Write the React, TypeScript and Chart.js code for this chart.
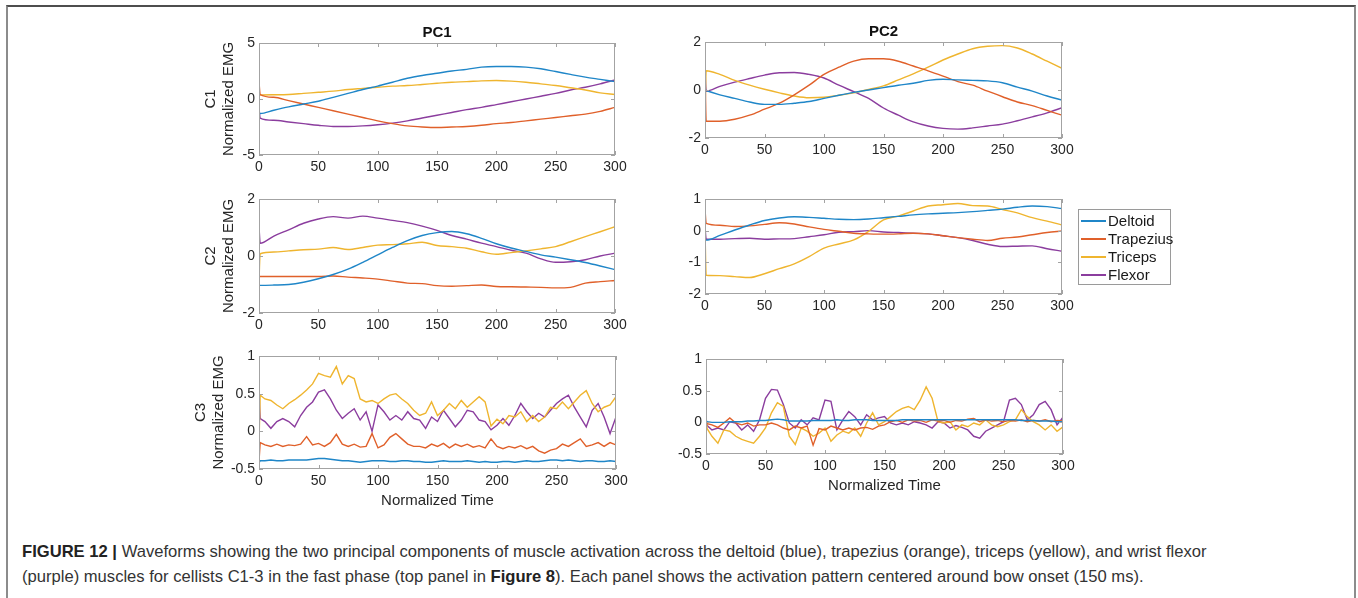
import React, { useEffect, useRef } from "react";
import { Chart, registerables } from "chart.js";

Chart.register(...registerables);

const FONT = '"Liberation Sans", Arial, Helvetica, sans-serif';

// ---------- categories / labels ----------
const muscles = ["Deltoid", "Trapezius", "Triceps", "Flexor"];
const muscleColors = ["#1f86c8", "#e0602a", "#efb52f", "#8b3d9e"];
const componentTitles = ["PC1", "PC2"];
const cellists = ["C1", "C2", "C3"];
const xTickValues = [0, 50, 100, 150, 200, 250, 300];

// ---------- time bases ----------
const timeSmooth = [0, 1, 12.5, 25, 37.5, 50, 62.5, 75, 87.5, 100, 112.5, 125, 137.5, 150, 162.5, 175, 187.5, 200, 212.5, 225, 237.5, 250, 262.5, 275, 287.5, 300];
const timeNoisy = [0, 1,
  5, 10, 15, 20, 25, 30, 35, 40, 45, 50,
  55, 60, 65, 70, 75, 80, 85, 90, 95, 100,
  105, 110, 115, 120, 125, 130, 135, 140, 145, 150,
  155, 160, 165, 170, 175, 180, 185, 190, 195, 200,
  205, 210, 215, 220, 225, 230, 235, 240, 245, 250,
  255, 260, 265, 270, 275, 280, 285, 290, 295, 300];

// ---------- C1 PC1 ----------
const c1pc1Deltoid = [-1.3, -1.3, -1.0, -0.7, -0.45, -0.2, 0.15, 0.5, 0.85, 1.15, 1.5, 1.85, 2.1, 2.3, 2.5, 2.65, 2.85, 2.9, 2.9, 2.85, 2.7, 2.45, 2.2, 1.95, 1.75, 1.55];
const c1pc1Trapezius = [1.5, 0.4, 0.15, -0.15, -0.45, -0.75, -1.05, -1.35, -1.65, -1.95, -2.2, -2.4, -2.5, -2.55, -2.5, -2.45, -2.35, -2.2, -2.1, -1.95, -1.8, -1.65, -1.5, -1.35, -1.1, -0.75];
const c1pc1Triceps = [0.3, 0.35, 0.38, 0.4, 0.5, 0.6, 0.7, 0.85, 0.95, 1.05, 1.15, 1.2, 1.3, 1.4, 1.5, 1.55, 1.62, 1.65, 1.6, 1.5, 1.35, 1.2, 1.0, 0.8, 0.55, 0.4];
const c1pc1Flexor = [-0.8, -1.7, -1.9, -2.05, -2.2, -2.35, -2.45, -2.45, -2.4, -2.3, -2.15, -1.95, -1.7, -1.45, -1.2, -0.95, -0.75, -0.5, -0.25, 0.0, 0.25, 0.5, 0.8, 1.05, 1.35, 1.7];

// ---------- C1 PC2 ----------
const c1pc2Deltoid = [0.0, -0.02, -0.2, -0.35, -0.5, -0.6, -0.6, -0.55, -0.48, -0.35, -0.22, -0.1, 0.0, 0.1, 0.2, 0.28, 0.4, 0.45, 0.42, 0.4, 0.38, 0.3, 0.12, -0.05, -0.25, -0.42];
const c1pc2Trapezius = [0.9, -1.3, -1.3, -1.22, -1.05, -0.8, -0.55, -0.2, 0.2, 0.65, 0.95, 1.2, 1.3, 1.3, 1.2, 1.0, 0.8, 0.58, 0.35, 0.2, -0.05, -0.28, -0.5, -0.65, -0.85, -1.05];
const c1pc2Triceps = [-1.0, 0.8, 0.65, 0.4, 0.2, 0.03, -0.12, -0.25, -0.32, -0.3, -0.22, -0.12, 0.02, 0.17, 0.42, 0.67, 0.95, 1.25, 1.5, 1.72, 1.82, 1.85, 1.75, 1.5, 1.2, 0.9];
const c1pc2Flexor = [0.87, -0.05, 0.15, 0.33, 0.48, 0.62, 0.72, 0.73, 0.65, 0.5, 0.2, -0.07, -0.35, -0.75, -1.05, -1.33, -1.5, -1.6, -1.63, -1.58, -1.5, -1.42, -1.28, -1.12, -0.95, -0.74];

// ---------- C2 PC1 ----------
const c2pc1Deltoid = [-1.02, -1.03, -1.02, -1.0, -0.92, -0.8, -0.65, -0.46, -0.22, 0.04, 0.3, 0.54, 0.72, 0.82, 0.86, 0.78, 0.62, 0.43, 0.28, 0.16, 0.04, -0.04, -0.13, -0.23, -0.35, -0.48];
const c2pc1Trapezius = [-0.74, -0.72, -0.72, -0.72, -0.72, -0.72, -0.7, -0.74, -0.77, -0.81, -0.88, -0.95, -0.97, -1.04, -1.06, -1.04, -1.02, -1.07, -1.08, -1.09, -1.1, -1.12, -1.1, -0.95, -0.9, -0.86];
const c2pc1Triceps = [-0.85, 0.08, 0.14, 0.18, 0.22, 0.24, 0.3, 0.23, 0.3, 0.38, 0.4, 0.43, 0.48, 0.37, 0.33, 0.27, 0.15, 0.06, 0.12, 0.18, 0.25, 0.33, 0.5, 0.68, 0.85, 1.03];
const c2pc1Flexor = [1.03, 0.45, 0.7, 0.92, 1.15, 1.3, 1.38, 1.33, 1.4, 1.33, 1.25, 1.17, 1.05, 0.9, 0.72, 0.59, 0.45, 0.33, 0.2, 0.1, -0.1, -0.22, -0.2, -0.13, 0.0, 0.1];

// ---------- C2 PC2 ----------
const c2pc2Deltoid = [-0.29, -0.3, -0.15, 0.02, 0.18, 0.32, 0.4, 0.44, 0.42, 0.39, 0.36, 0.35, 0.37, 0.41, 0.45, 0.5, 0.53, 0.55, 0.57, 0.6, 0.64, 0.68, 0.74, 0.78, 0.76, 0.7];
const c2pc2Trapezius = [0.67, 0.23, 0.17, 0.13, 0.15, 0.2, 0.25, 0.21, 0.12, 0.04, -0.02, -0.08, -0.1, -0.11, -0.1, -0.08, -0.1, -0.16, -0.22, -0.27, -0.31, -0.24, -0.2, -0.13, -0.06, -0.01];
const c2pc2Triceps = [0.0, -1.41, -1.42, -1.45, -1.48, -1.36, -1.2, -1.05, -0.82, -0.55, -0.42, -0.29, -0.02, 0.34, 0.46, 0.62, 0.78, 0.82, 0.86, 0.79, 0.78, 0.67, 0.56, 0.41, 0.3, 0.18];
const c2pc2Flexor = [0.13, -0.27, -0.27, -0.25, -0.24, -0.27, -0.26, -0.25, -0.19, -0.13, -0.05, -0.03, 0.0, -0.04, -0.06, -0.08, -0.1, -0.16, -0.22, -0.31, -0.43, -0.5, -0.49, -0.48, -0.57, -0.65];

// ---------- C3 PC1 ----------
const c3pc1Deltoid = [-0.42, -0.39,
  -0.39, -0.38, -0.39, -0.39, -0.38, -0.38, -0.38, -0.38, -0.37, -0.36,
  -0.36, -0.37, -0.38, -0.39, -0.39, -0.4, -0.41, -0.4, -0.39, -0.39,
  -0.39, -0.4, -0.4, -0.39, -0.39, -0.4, -0.4, -0.41, -0.41, -0.4,
  -0.39, -0.4, -0.4, -0.4, -0.39, -0.4, -0.41, -0.4, -0.41, -0.41,
  -0.4, -0.4, -0.41, -0.4, -0.39, -0.4, -0.4, -0.39, -0.38, -0.38,
  -0.39, -0.38, -0.39, -0.4, -0.39, -0.39, -0.4, -0.4, -0.39, -0.4];
const c3pc1Trapezius = [-0.4, -0.15,
  -0.18, -0.2, -0.17, -0.2, -0.18, -0.19, -0.17, -0.07, -0.18, -0.16,
  -0.2, -0.15, -0.04, -0.17, -0.2, -0.17, -0.21, -0.2, -0.03, -0.22,
  -0.18, -0.08, -0.03, -0.1, -0.17, -0.2, -0.2, -0.22, -0.17, -0.2,
  -0.16, -0.22, -0.17, -0.2, -0.17, -0.21, -0.19, -0.22, -0.1, -0.2,
  -0.23, -0.2, -0.22, -0.19, -0.23, -0.2, -0.26, -0.29, -0.25, -0.23,
  -0.17, -0.2, -0.15, -0.1, -0.2, -0.18, -0.15, -0.2, -0.15, -0.18];
const c3pc1Triceps = [-0.15, 0.48,
  0.43, 0.41, 0.35, 0.3, 0.37, 0.42, 0.48, 0.55, 0.63, 0.77,
  0.74, 0.72, 0.86, 0.63, 0.74, 0.7, 0.43, 0.39, 0.41, 0.37,
  0.43, 0.48, 0.5, 0.43, 0.37, 0.28, 0.21, 0.24, 0.39, 0.21,
  0.28, 0.37, 0.3, 0.41, 0.32, 0.39, 0.46, 0.39, 0.07, 0.16,
  0.1, 0.21, 0.19, 0.26, 0.13, 0.21, 0.13, 0.19, 0.32, 0.3,
  0.39, 0.3, 0.39, 0.48, 0.54, 0.37, 0.26, 0.32, 0.35, 0.46];
const c3pc1Flexor = [0.5, 0.17,
  0.13, 0.04, 0.13, 0.17, 0.13, 0.06, 0.21, 0.32, 0.39, 0.52,
  0.55, 0.43, 0.28, 0.17, 0.24, 0.3, 0.15, 0.26, 0.0, 0.35,
  0.26, 0.15, 0.21, 0.15, 0.26, 0.17, 0.15, 0.04, 0.19, 0.13,
  0.28, 0.17, 0.06, 0.15, 0.28, 0.26, 0.15, 0.13, 0.02, 0.08,
  0.17, 0.08, 0.21, 0.37, 0.26, 0.17, 0.24, 0.19, 0.28, 0.37,
  0.43, 0.48, 0.32, 0.19, 0.06, 0.28, 0.37, 0.19, -0.03, 0.19];

// ---------- C3 PC2 ----------
const c3pc2Deltoid = [0.03, 0.01,
  0.0, 0.0, 0.0, 0.01, 0.01, 0.01, 0.02, 0.02, 0.03, 0.03,
  0.04, 0.05, 0.04, 0.02, 0.02, 0.02, 0.02, 0.03, 0.03, 0.03,
  0.03, 0.04, 0.03, 0.03, 0.04, 0.04, 0.04, 0.03, 0.03, 0.03,
  0.03, 0.03, 0.04, 0.04, 0.04, 0.04, 0.04, 0.04, 0.04, 0.04,
  0.04, 0.04, 0.04, 0.04, 0.04, 0.04, 0.04, 0.04, 0.04, 0.04,
  0.04, 0.04, 0.03, 0.03, 0.03, 0.02, 0.02, 0.02, 0.01, 0.01];
const c3pc2Trapezius = [0.04, -0.02,
  -0.04, -0.08, -0.01, 0.07, -0.01, -0.04, -0.01, -0.06, -0.04, -0.04,
  -0.01, -0.04, -0.09, -0.12, -0.06, -0.09, -0.06, -0.36, -0.1, -0.12,
  -0.06, -0.09, -0.12, -0.09, -0.12, -0.09, -0.08, -0.11, -0.06, -0.04,
  0.01, 0.03, 0.0, 0.04, 0.02, 0.03, 0.0, 0.04, 0.02, 0.03,
  0.0, 0.03, 0.02, 0.05, 0.06, 0.01, 0.04, 0.02, 0.03, 0.01,
  0.03, 0.02, 0.04, 0.01, 0.03, 0.02, 0.04, 0.01, 0.03, 0.02];
const c3pc2Triceps = [0.04, -0.1,
  -0.22, -0.33, -0.12, -0.14, -0.22, -0.27, -0.3, -0.33, -0.22, -0.09,
  0.15, 0.31, 0.25, -0.22, -0.35, -0.09, -0.14, -0.22, -0.17, -0.09,
  -0.3, -0.2, -0.14, -0.17, -0.09, -0.22, -0.01, 0.15, -0.04, 0.01,
  0.09, 0.17, 0.22, 0.25, 0.2, 0.35, 0.56, 0.38, 0.01, -0.01,
  0.01, -0.12, -0.04, -0.07, -0.01, -0.04, 0.04, -0.04, -0.07, -0.04,
  0.01, 0.04, 0.2, 0.09, 0.01, -0.04, -0.12, -0.04, -0.14, -0.07];
const c3pc2Flexor = [0.0, -0.05,
  -0.12, -0.09, -0.12, 0.01, -0.01, -0.12, -0.04, -0.14, 0.04, 0.38,
  0.52, 0.51, 0.28, -0.01, -0.09, 0.04, -0.04, 0.07, 0.04, 0.35,
  0.33, -0.12, 0.04, 0.17, 0.09, -0.04, 0.12, 0.04, 0.07, 0.09,
  -0.01, -0.04, -0.01, -0.04, 0.01, -0.01, -0.04, -0.09, 0.01, -0.01,
  -0.09, -0.05, -0.08, -0.12, -0.22, -0.25, -0.14, -0.09, -0.04, 0.01,
  0.35, 0.38, 0.28, 0.04, 0.12, 0.28, 0.33, 0.2, -0.04, 0.08];

// ---------- y axis ranges [min, max, step] ----------
const yRanges = [
  [[-5, 5, 5], [-2, 2, 2]],
  [[-2, 2, 2], [-2, 1, 1]],
  [[-0.5, 1, 0.5], [-0.5, 1, 0.5]],
];

// ---------- caption ----------
const captionLabel = "FIGURE 12 |";
const captionLine1 = "Waveforms showing the two principal components of muscle activation across the deltoid (blue), trapezius (orange), triceps (yellow), and wrist flexor";
const captionLine2a = "(purple) muscles for cellists C1-3 in the fast phase (top panel in ";
const captionRef = "Figure 8";
const captionLine2b = "). Each panel shows the activation pattern centered around bow onset (150 ms).";

type Panel = {
  row: number; col: number;
  L: number; T: number; R: number; B: number;
  time: number[]; smooth: boolean;
  series: number[][];
};

const panels: Panel[] = [
  { row: 0, col: 0, L: 259, T: 43, R: 615, B: 155, time: timeSmooth, smooth: true, series: [c1pc1Deltoid, c1pc1Trapezius, c1pc1Triceps, c1pc1Flexor] },
  { row: 0, col: 1, L: 705, T: 42, R: 1062, B: 138, time: timeSmooth, smooth: true, series: [c1pc2Deltoid, c1pc2Trapezius, c1pc2Triceps, c1pc2Flexor] },
  { row: 1, col: 0, L: 259, T: 199, R: 615, B: 313, time: timeSmooth, smooth: true, series: [c2pc1Deltoid, c2pc1Trapezius, c2pc1Triceps, c2pc1Flexor] },
  { row: 1, col: 1, L: 705, T: 199, R: 1062, B: 294, time: timeSmooth, smooth: true, series: [c2pc2Deltoid, c2pc2Trapezius, c2pc2Triceps, c2pc2Flexor] },
  { row: 2, col: 0, L: 259, T: 356, R: 616, B: 469, time: timeNoisy, smooth: false, series: [c3pc1Deltoid, c3pc1Trapezius, c3pc1Triceps, c3pc1Flexor] },
  { row: 2, col: 1, L: 706, T: 359, R: 1063, B: 454, time: timeNoisy, smooth: false, series: [c3pc2Deltoid, c3pc2Trapezius, c3pc2Triceps, c3pc2Flexor] },
];

const PAD_L = 80;
const PAD_R = 22;
const PAD_T = 30;
const PAD_B = 45;
const TEXT = "#262626";

const boxPlugin = {
  id: "matlabBox",
  afterDraw(chart: any) {
    const { ctx, chartArea: a, scales } = chart;
    const xs = scales.x;
    const ys = scales.y;
    ctx.save();
    ctx.strokeStyle = "#a3a3a3";
    ctx.lineWidth = 1;
    ctx.strokeRect(a.left + 0.5, a.top + 0.5, a.right - a.left - 1, a.bottom - a.top - 1);
    ctx.beginPath();
    const len = 4;
    xs.ticks.forEach((t: any) => {
      const p = Math.round(xs.getPixelForValue(t.value)) + 0.5;
      ctx.moveTo(p, a.bottom);
      ctx.lineTo(p, a.bottom - len);
      ctx.moveTo(p, a.top);
      ctx.lineTo(p, a.top + len);
    });
    ys.ticks.forEach((t: any) => {
      const p = Math.round(ys.getPixelForValue(t.value)) + 0.5;
      ctx.moveTo(a.left, p);
      ctx.lineTo(a.left + len, p);
      ctx.moveTo(a.right, p);
      ctx.lineTo(a.right - len, p);
    });
    ctx.stroke();
    ctx.restore();
  },
};

function PanelChart({ panel }: { panel: Panel }) {
  const ref = useRef<HTMLCanvasElement | null>(null);
  const w = panel.R - panel.L + PAD_L + PAD_R;
  const h = panel.B - panel.T + PAD_T + PAD_B;
  useEffect(() => {
    if (!ref.current) return;
    const [yMin, yMax, yStep] = yRanges[panel.row][panel.col];
    const hasTitle = panel.row === 0;
    const hasYTitle = panel.col === 0;
    const hasXTitle = panel.row === 2;
    const chart = new Chart(ref.current, {
      type: "line",
      data: {
        datasets: panel.series.map((vals, i) => ({
          label: muscles[i],
          data: vals.map((v, k) => ({ x: panel.time[k], y: v })),
          borderColor: muscleColors[i],
          backgroundColor: muscleColors[i],
          borderWidth: 1.4,
          pointRadius: 0,
          tension: panel.smooth ? 0.35 : 0,
          cubicInterpolationMode: panel.smooth ? "monotone" : "default",
          fill: false,
        })),
      },
      options: {
        animation: false,
        responsive: false,
        maintainAspectRatio: false,
        events: [],
        layout: { padding: { left: 0, right: PAD_R, top: hasTitle ? 0 : PAD_T, bottom: 0 } },
        plugins: {
          legend: { display: false },
          tooltip: { enabled: false },
          title: {
            display: hasTitle,
            text: componentTitles[panel.col],
            fullSize: false,
            color: "#111",
            font: { family: FONT, size: 15, weight: "bold" },
            padding: { top: 11, bottom: 1 },
          },
        },
        scales: {
          x: {
            type: "linear",
            min: 0,
            max: 300,
            afterFit: (s: any) => { s.height = PAD_B; },
            afterBuildTicks: (s: any) => { s.ticks = xTickValues.map((v) => ({ value: v })); },
            grid: { display: false, drawTicks: false },
            border: { display: false },
            ticks: { color: TEXT, font: { family: FONT, size: 14 }, padding: 4, maxRotation: 0, autoSkip: false, callback: (v: any) => String(v) },
            title: {
              display: hasXTitle,
              text: "Normalized Time",
              color: TEXT,
              font: { family: FONT, size: 15 },
              padding: { top: 0, bottom: 4 },
            },
          },
          y: {
            type: "linear",
            min: yMin,
            max: yMax,
            afterFit: (s: any) => { s.width = PAD_L; },
            grid: { display: false, drawTicks: false },
            border: { display: false },
            ticks: { color: TEXT, font: { family: FONT, size: 14 }, padding: 4, stepSize: yStep, autoSkip: false, callback: (v: any) => String(v) },
            title: {
              display: hasYTitle,
              text: [cellists[panel.row], "Normalized EMG"],
              color: TEXT,
              font: { family: FONT, size: 15, lineHeight: 1.2 },
              padding: { top: panel.row === 2 ? 13 : 23, bottom: 0 },
            },
          },
        },
      },
      plugins: [boxPlugin],
    } as any);
    return () => chart.destroy();
  }, [panel]);
  return (
    <canvas
      ref={ref}
      width={w}
      height={h}
      style={{ position: "absolute", left: panel.L - PAD_L, top: panel.T - PAD_T, width: w, height: h }}
    />
  );
}

function Legend() {
  return (
    <div
      style={{
        position: "absolute", left: 1078, top: 209, width: 91, height: 74,
        border: "1px solid #9a9a9a", background: "#fff", fontFamily: FONT, fontSize: 15, color: "#1a1a1a",
      }}
    >
      {muscles.map((m, i) => (
        <div key={m} style={{ position: "absolute", left: 2, top: 2 + i * 18, height: 18, display: "flex", alignItems: "center" }}>
          <div style={{ width: 25, height: 2, background: muscleColors[i] }} />
          <span style={{ marginLeft: 2, lineHeight: "18px", whiteSpace: "nowrap" }}>{m}</span>
        </div>
      ))}
    </div>
  );
}

export default function App() {
  return (
    <div style={{ position: "fixed", left: 0, top: 0, width: 1358, height: 598, background: "#fff", overflow: "hidden" }}>
      <div style={{ position: "absolute", left: 6, top: 5, width: 1346, height: 620, borderTop: "2px solid #4d4d4d", borderLeft: "2px solid #8c8c8c", borderRight: "2px solid #8c8c8c" }} />
      {panels.map((p, i) => (
        <PanelChart key={i} panel={p} />
      ))}
      <Legend />
      <div
        style={{
          position: "absolute", left: 22, top: 539, fontFamily: FONT, fontSize: 16.6, lineHeight: "25px",
          color: "#333", whiteSpace: "nowrap",
        }}
      >
        <div>
          <b style={{ color: "#222" }}>{captionLabel}</b> {captionLine1}
        </div>
        <div>
          {captionLine2a}<b style={{ color: "#222" }}>{captionRef}</b>{captionLine2b}
        </div>
      </div>
    </div>
  );
}
